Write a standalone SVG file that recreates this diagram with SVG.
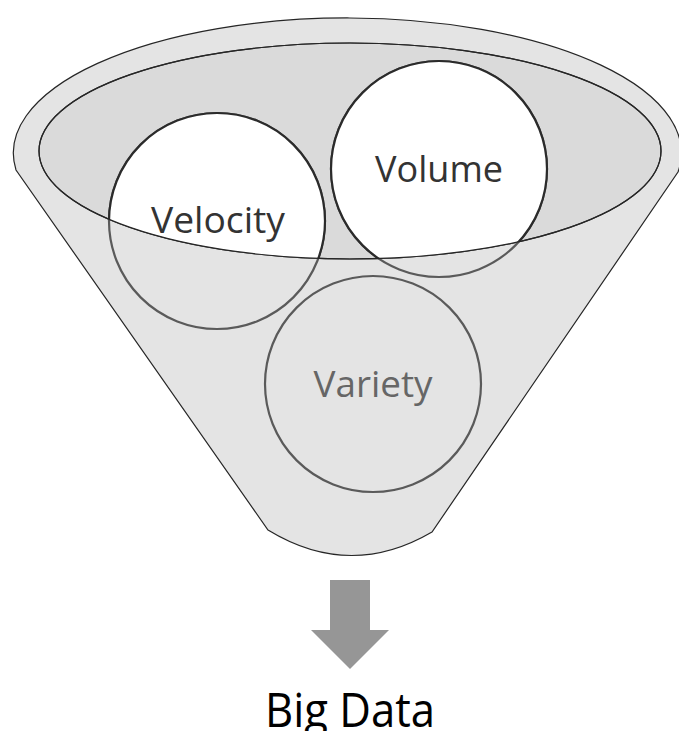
<svg xmlns="http://www.w3.org/2000/svg" width="679" height="731" viewBox="0 0 679 731">
  <style>
    .label { font-family: "Open Sans", "Liberation Sans", sans-serif; text-anchor: middle; }
    .rim { stroke: #262626; stroke-width: 1.2; }
    .ring-top { fill: #ffffff; stroke: #2b2b2b; stroke-width: 2.2; }
    .ring-low { fill: none; stroke: #5a5a5a; stroke-width: 2.2; }
  </style>
  <defs>
    <!-- mouth of the funnel: circles are white only inside it -->
    <clipPath id="mouth">
      <ellipse cx="350" cy="151" rx="311" ry="108"/>
    </clipPath>
  </defs>

  <!-- funnel body and mouth -->
  <g id="funnel">
    <path class="rim" fill="#e4e4e4" d="M16,170 A334,135 0 1 1 678,172 L432,532 Q350,580 268,530 Z"/>
    <ellipse class="rim" fill="#dadada" cx="350" cy="151" rx="311" ry="108"/>
  </g>

  <g id="velocity">
    <circle class="ring-low" cx="217" cy="221" r="108"/>
    <circle class="ring-top" cx="217" cy="221" r="108" clip-path="url(#mouth)"/>
  </g>

  <g id="volume">
    <circle class="ring-low" cx="439" cy="169" r="108"/>
    <circle class="ring-top" cx="439" cy="169" r="108" clip-path="url(#mouth)"/>
  </g>

  <!-- front lip of the mouth passes over the circles -->
  <ellipse class="rim" fill="none" cx="350" cy="151" rx="311" ry="108"/>

  <g id="velocity-label">
    <text class="label" x="218" y="233" font-size="36" fill="#333333" textLength="134" lengthAdjust="spacingAndGlyphs">Velocity</text>
  </g>
  <g id="volume-label">
    <text class="label" x="439" y="182" font-size="36" fill="#333333" textLength="128" lengthAdjust="spacingAndGlyphs">Volume</text>
  </g>

  <g id="variety">
    <circle class="ring-low" cx="373" cy="384" r="108"/>
    <text class="label" x="373" y="397" font-size="36" fill="#666666" textLength="119" lengthAdjust="spacingAndGlyphs">Variety</text>
  </g>

  <g id="connectors">
    <path fill="#969696" d="M330,580 L370,580 L370,630 L389,630 L350,669 L311,630 L330,630 Z"/>
  </g>

  <g id="big-data">
    <text class="label" x="350" y="727" font-size="48" fill="#000000" textLength="170" lengthAdjust="spacingAndGlyphs">Big Data</text>
  </g>
</svg>
